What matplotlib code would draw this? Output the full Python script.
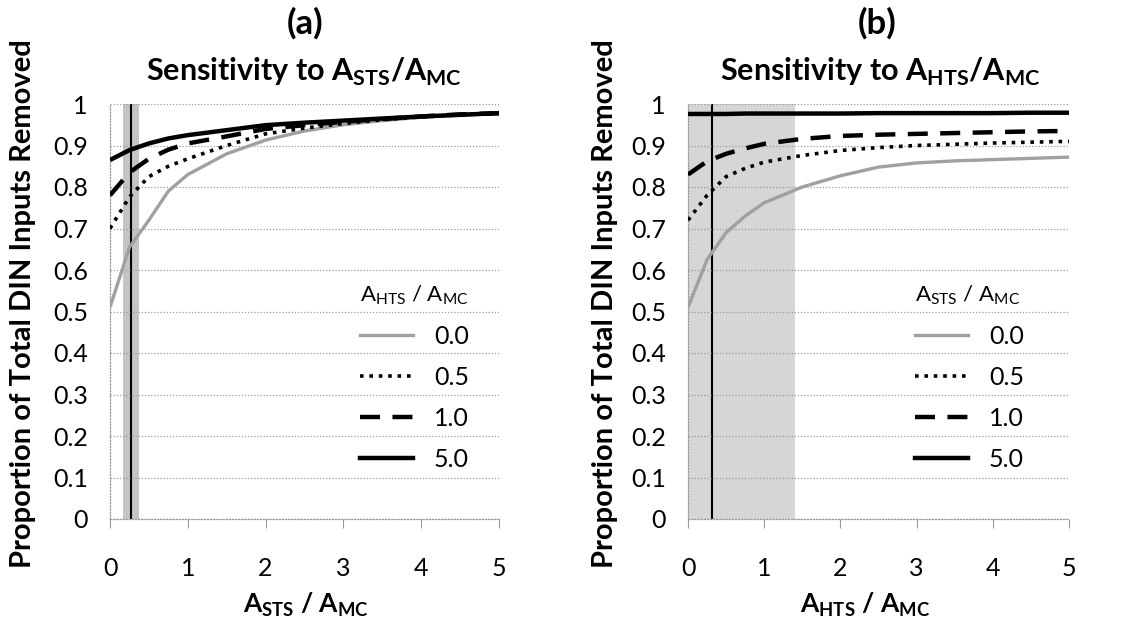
import matplotlib
matplotlib.use("Agg")
import matplotlib.pyplot as plt
from matplotlib.lines import Line2D

plt.rcParams['font.family'] = ['Lato', 'DejaVu Sans']

# panel (a): removal vs A_STS/A_MC, one curve per A_HTS/A_MC
xa = [0, 0.25, 0.5, 0.75, 1, 1.5, 2, 2.5, 3, 3.5, 4, 4.5, 5]
a_hts_00 = [0.51, 0.655, 0.72, 0.79, 0.83, 0.88, 0.913, 0.935, 0.95, 0.96, 0.968, 0.973, 0.977]
a_hts_05 = [0.70, 0.776, 0.825, 0.85, 0.868, 0.90, 0.928, 0.942, 0.953, 0.962, 0.969, 0.974, 0.978]
a_hts_10 = [0.78, 0.835, 0.868, 0.89, 0.905, 0.922, 0.94, 0.949, 0.957, 0.964, 0.97, 0.975, 0.978]
a_hts_50 = [0.865, 0.889, 0.905, 0.917, 0.925, 0.937, 0.949, 0.955, 0.96, 0.965, 0.97, 0.974, 0.978]

# panel (b): removal vs A_HTS/A_MC, one curve per A_STS/A_MC
xb = [0, 0.25, 0.5, 0.75, 1, 1.5, 2, 2.5, 3, 3.5, 4, 4.5, 5]
b_sts_00 = [0.51, 0.625, 0.69, 0.73, 0.762, 0.80, 0.827, 0.848, 0.858, 0.863, 0.866, 0.869, 0.872]
b_sts_05 = [0.72, 0.78, 0.825, 0.845, 0.86, 0.876, 0.888, 0.895, 0.90, 0.903, 0.906, 0.908, 0.91]
b_sts_10 = [0.83, 0.862, 0.88, 0.893, 0.904, 0.916, 0.923, 0.926, 0.928, 0.93, 0.932, 0.934, 0.935]
b_sts_50 = [0.976, 0.976, 0.976, 0.977, 0.977, 0.977, 0.977, 0.978, 0.978, 0.978, 0.978, 0.979, 0.979]

series_labels = ['0.0', '0.5', '1.0', '5.0']

# observed range (shaded) and current value (vertical line)
a_band = (0.17, 0.37)
a_now = 0.27
b_band = (0.0, 1.4)
b_now = 0.31

styles = [
    dict(color='#a0a0a0', lw=2.4, ls='-'),
    dict(color='black', lw=2.6, ls=(0, (1, 1.6))),
    dict(color='black', lw=3.2, ls=(0, (4.5, 2.8))),
    dict(color='black', lw=3.2, ls='-'),
]


def setup_axes(ax, band, band_color, now):
    ax.axvspan(band[0], band[1], color=band_color, zorder=0, lw=0)
    ax.axvline(now, color='black', lw=1.5, zorder=1)
    ax.set_xlim(0, 5)
    ax.set_ylim(0, 1)
    ax.set_xticks(range(6))
    ax.set_yticks([i / 10 for i in range(11)])
    ax.set_yticklabels(['0', '0.1', '0.2', '0.3', '0.4', '0.5', '0.6', '0.7', '0.8', '0.9', '1'])
    ax.grid(axis='y', color='#9a9a9a', lw=0.9, ls=(0, (1, 1.5)), zorder=0.5)
    for s in ['top', 'right']:
        ax.spines[s].set_visible(False)
    for s in ['left', 'bottom']:
        ax.spines[s].set_color('#9a9a9a')
        ax.spines[s].set_linestyle((0, (1, 1.5)))
        ax.spines[s].set_linewidth(0.9)
    ax.tick_params(axis='x', length=6.5, width=0.8, color='#9a9a9a', pad=21, labelsize=18)
    ax.tick_params(axis='y', length=0, pad=16, labelsize=18)


def draw_curves(ax, x, ys):
    for y, st in zip(ys, styles):
        ax.plot(x, y, solid_capstyle='butt', dash_capstyle='butt', zorder=3, **st)


fig = plt.figure(figsize=(11.26, 6.24), dpi=100)
W, H = 1126, 624
ax1 = fig.add_axes([110 / W, 1 - 519 / H, 389 / W, 415 / H])
ax2 = fig.add_axes([688 / W, 1 - 519 / H, 381 / W, 415 / H])

setup_axes(ax1, a_band, '#c4c4c4', a_now)
setup_axes(ax2, b_band, '#d6d6d6', b_now)
draw_curves(ax1, xa, [a_hts_00, a_hts_05, a_hts_10, a_hts_50])
draw_curves(ax2, xb, [b_sts_00, b_sts_05, b_sts_10, b_sts_50])

handles = [Line2D([], [], **st) for st in styles]
leg_kw = dict(frameon=False, loc='upper left', fontsize=18, title_fontsize=16,
              handlelength=2.1, handletextpad=0.85, labelspacing=0.72, borderpad=0,
              borderaxespad=0)
leg1 = ax1.legend(handles, series_labels, title=r'A$_{\mathregular{HTS}}$ / A$_{\mathregular{MC}}$',
                  bbox_to_anchor=(0.643, 0.568), **leg_kw)
leg2 = ax2.legend(handles, series_labels, title=r'A$_{\mathregular{STS}}$ / A$_{\mathregular{MC}}$',
                  bbox_to_anchor=(0.596, 0.568), **leg_kw)
for leg in (leg1, leg2):
    leg._legend_box.align = 'left'

# titles
fig.text(305 / W, 1 - 23 / H, '(a)', ha='center', va='center', fontsize=25, fontweight='bold')
fig.text(304 / W, 1 - 72 / H, r'Sensitivity to A$_{\mathregular{STS}}$/A$_{\mathregular{MC}}$',
         ha='center', va='center', fontsize=22, fontweight='bold')
fig.text(877 / W, 1 - 23 / H, '(b)', ha='center', va='center', fontsize=25, fontweight='bold')
fig.text(880 / W, 1 - 72 / H, r'Sensitivity to A$_{\mathregular{HTS}}$/A$_{\mathregular{MC}}$',
         ha='center', va='center', fontsize=22, fontweight='bold')

# axis labels
ylab = 'Proportion of Total DIN Inputs Removed'
fig.text(23 / W, 1 - 304 / H, ylab, rotation=90, ha='center', va='center', fontsize=21, fontweight='bold')
fig.text(605 / W, 1 - 304 / H, ylab, rotation=90, ha='center', va='center', fontsize=21, fontweight='bold')
fig.text(306 / W, 1 - 605 / H, r'A$_{\mathregular{STS}}$ / A$_{\mathregular{MC}}$',
         ha='center', va='center', fontsize=19, fontweight='bold')
fig.text(865 / W, 1 - 605 / H, r'A$_{\mathregular{HTS}}$ / A$_{\mathregular{MC}}$',
         ha='center', va='center', fontsize=19, fontweight='bold')

fig.savefig('out.png', dpi=100)
